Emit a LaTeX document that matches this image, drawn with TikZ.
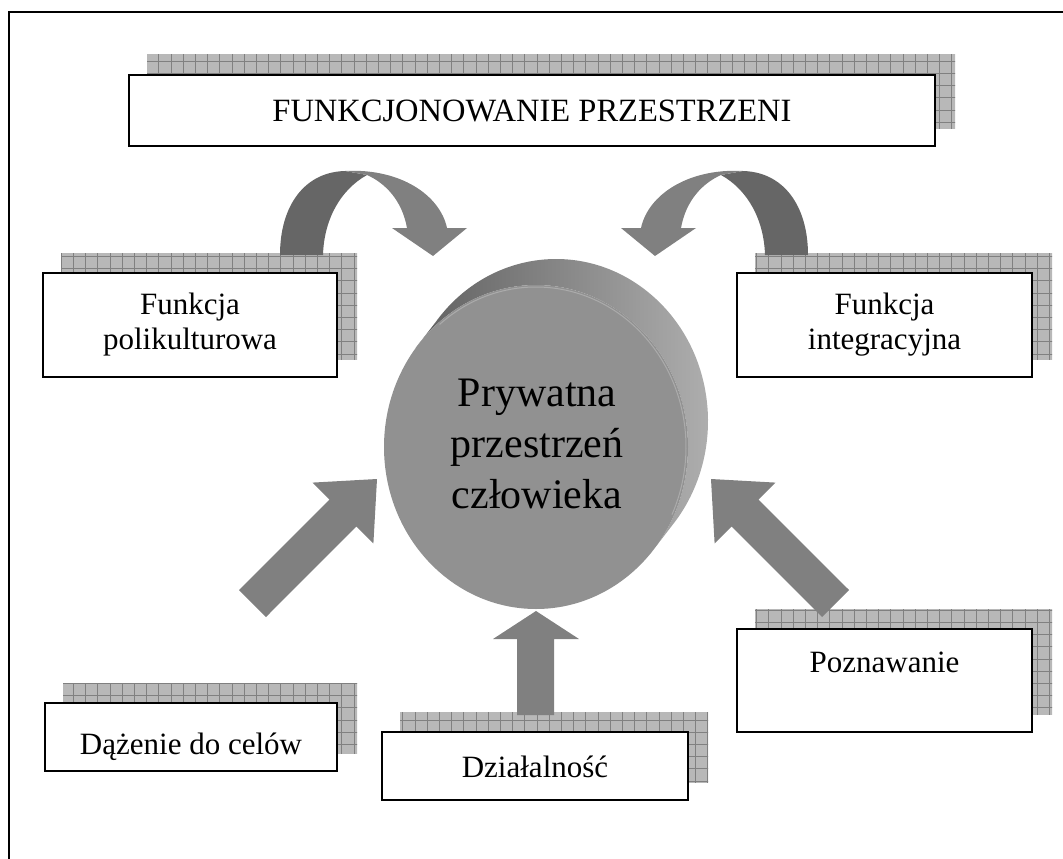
\documentclass[tikz,border=0pt]{standalone}
\usepackage{fontspec}
\setmainfont{Liberation Serif}
\usetikzlibrary{calc,backgrounds}

\begin{document}
\begin{tikzpicture}[x=1pt, y=-1pt,
                    box/.style={draw, line width=2pt, fill=white, inner sep=0pt,
                                font=\fontsize{31}{35}\selectfont},
                    shadow fill/.style={fill=black!28},
                    shadow grid/.style={draw=black!50, line width=0.6pt},
                    dark arrow/.style={fill=black!60},
                    light arrow/.style={fill=black!50}]

  \useasboundingbox (0,0) rectangle (1063,859);
  \draw[line width=2.5pt] (9,875) -- (9,12) -- (1080,12);

  \node[box, minimum width=806pt, minimum height=71pt, font=\fontsize{32.5}{38}\selectfont] (title) at (532,110.5) {FUNKCJONOWANIE PRZESTRZENI};
  \node[box, align=center, minimum width=294pt, minimum height=104pt] (poli) at (190,325) {Funkcja\\polikulturowa};
  \node[box, align=center, minimum width=295pt, minimum height=104pt] (integ) at (884.5,325) {Funkcja\\integracyjna};
  \node[box, minimum width=295pt, minimum height=103pt, text height=20pt, text depth=37pt] (pozn) at (884.5,680.5) {Poznawanie};
  \node[box, minimum width=292pt, minimum height=68pt, text height=41pt, text depth=6pt] (dazen) at (191,737) {Dążenie do celów};
  \node[box, minimum width=306pt, minimum height=68pt, text height=29pt, text depth=6pt] (dzial) at (535,766) {Działalność};

  % shadows behind the boxes
  \begin{pgfonlayer}{background}
    \foreach \n in {title,poli,integ,pozn,dazen,dzial} {
      \begin{scope}
        \clip ($(\n.south west)+(19,-19)$) rectangle ($(\n.north east)+(19,-19)$);
        \fill[shadow fill] (0,0) rectangle (1063,859);
        \draw[shadow grid, xstep=12.2pt, ystep=12.2pt] (0,0) grid (1063,859);
      \end{scope}
    }
  \end{pgfonlayer}

  % arrows, left one and its mirror image
  \foreach \s in {1,-1} {
    \begin{scope}[xshift={(1-\s)*544pt}, xscale=\s]
      \fill[dark arrow] (280,255) .. controls (280,205) and (305,172) .. (345,171)
        -- (367,175) .. controls (340,190) and (324,220) .. (323,255) -- cycle;
      \fill[light arrow] (345,171) .. controls (400,168) and (440,195) .. (447,228)
        -- (467,228) -- (433,256) -- (392,228) -- (407,228)
        .. controls (402,200) and (385,183) .. (367,175) -- cycle;
      \fill[light arrow] (239,590) -- (329.6,499.6) -- (312.6,482.6) -- (377,479)
        -- (373.4,543.4) -- (356.4,526.4) -- (266,617) -- cycle;
    \end{scope}
  }
  \fill[light arrow] (517,715) -- (517,639) -- (493,639) -- (536,611) -- (579,639)
    -- (554,639) -- (554,715) -- cycle;

  % cylinder
  \coordinate (fc) at (536,447);
  \coordinate (bc) at ($(fc)+(20,-26)$);
  \shade[left color=black!62, right color=black!30]
    ($(bc)+(37.6:152 and 162)$) arc[start angle=37.6, end angle=-142.4, x radius=152, y radius=162]
    -- ($(fc)+(-142.4:152 and 162)$) arc[start angle=-142.4, end angle=37.6, x radius=152, y radius=162] -- cycle;
  \fill[black!43] (fc) ellipse [x radius=152, y radius=162];
  \draw[black!33, line width=1pt] ($(fc)+(-130:150 and 160)$) arc[start angle=-130, end angle=25, x radius=150, y radius=160];
  \node[font=\fontsize{42}{51}\selectfont, align=center] (core) at (537,444) {Prywatna\\przestrzeń\\człowieka};

\end{tikzpicture}
\end{document}
